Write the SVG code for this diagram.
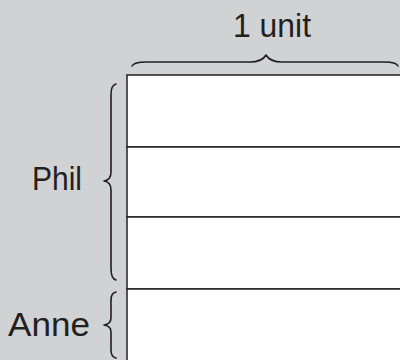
<svg xmlns="http://www.w3.org/2000/svg" width="400" height="360" viewBox="0 0 400 360">
  <style>
    .label { font-family: "Liberation Sans", Arial, sans-serif; font-size: 34px; fill: #231f20; }
    .brace { fill: none; stroke: #231f20; stroke-width: 1.6; stroke-linecap: round; stroke-linejoin: round; }
    .bar { fill: #ffffff; stroke: #231f20; stroke-width: 1.5; }
  </style>
  <rect x="0" y="0" width="400" height="360" fill="#d1d2d4"/>

  <!-- bar model: four equal units -->
  <g id="bar">
    <rect class="bar" x="127" y="75" width="290" height="72"/>
    <rect class="bar" x="127" y="147" width="290" height="70"/>
    <rect class="bar" x="127" y="217" width="290" height="72"/>
    <rect class="bar" x="127" y="289" width="290" height="80"/>
  </g>

  <!-- braces -->
  <g id="connectors">
    <path class="brace" d="M132,66 Q134,62 146,62 L250,62 Q262,62 266,55 Q270,62 282,62 L385,62 Q396,62 398,66"/>
    <path class="brace" d="M116,84 Q111,85 111,95 L111,172 Q111,180 104,181 Q111,182 111,190 L111,268 Q111,279 116,280"/>
    <path class="brace" d="M116,292 Q111,293 111,300 L111,318 Q111,324 104,325 Q111,326 111,332 L111,350 Q111,357 116,358"/>
  </g>

  <g id="unit-label">
    <text class="label" x="233" y="37" textLength="78" lengthAdjust="spacingAndGlyphs">1 unit</text>
  </g>
  <g id="phil">
    <text class="label" x="32" y="190" textLength="50" lengthAdjust="spacingAndGlyphs">Phil</text>
  </g>
  <g id="anne">
    <text class="label" x="8" y="336" textLength="82" lengthAdjust="spacingAndGlyphs">Anne</text>
  </g>
</svg>
